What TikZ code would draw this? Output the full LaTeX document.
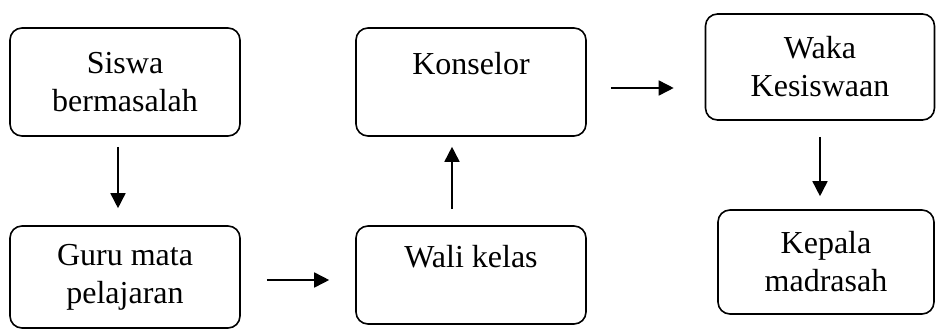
\documentclass[tikz,border=0pt]{standalone}
\usepackage{fontspec}
\setmainfont{Liberation Serif}
\usepackage{tikz}
\usetikzlibrary{arrows.meta, calc, positioning}
\definecolor{linecol}{RGB}{0, 0, 0}
\tikzset{
  blk/.style  = {draw=linecol, line width=1.6pt, rounded corners=12pt,
                 align=center, inner sep=2pt,
                 font=\fontsize{32}{38}\selectfont},
  flow/.style = {-{Triangle[length=15pt, width=15pt]}, draw=linecol,
                 line width=1.6pt},
}

\begin{document}
\begin{tikzpicture}[x=1pt, y=-1pt]
  \useasboundingbox (0,0) rectangle (936,329);

  %% ---------------- the boxes ----------------
  \node[blk, minimum width=230pt, minimum height=108pt] (siswa)
       at (125, 82) {Siswa\\bermasalah};
  \node[blk, minimum width=230pt, minimum height=102pt] (guru)
       at (125, 277) {Guru mata\\pelajaran};
  % single-line boxes keep their text on the upper line
  \node[blk, minimum width=230pt, minimum height=98pt] (wali)
       at (471, 275) {Wali kelas\\\mbox{}};
  \node[blk, minimum width=230pt, minimum height=108pt] (kons)
       at (471, 82) {Konselor\\\mbox{}};
  \node[blk, minimum width=229pt, minimum height=106pt] (waka)
       at (820, 67) {Waka\\Kesiswaan};
  \node[blk, minimum width=216pt, minimum height=104pt] (kepala)
       at (826, 262) {Kepala\\madrasah};

  %% ---------------- the flow ----------------
  \draw[flow, shorten <=10pt, shorten >=17pt]
       ([xshift=-7pt]siswa.south) -- ([xshift=-7pt]siswa.south |- guru.north);
  \draw[flow, shorten <=26pt, shorten >=26pt]
       ([yshift=-3pt]guru.east) -- ([yshift=-3pt]guru.east -| wali.west);
  \draw[flow, shorten <=16pt, shorten >=10pt]
       ([xshift=-19pt]wali.north) -- ([xshift=-19pt]wali.north |- kons.south);
  \draw[flow, shorten <=24pt, shorten >=31pt]
       ([yshift=-6pt]kons.east) -- ([yshift=-6pt]kons.east -| waka.west);
  \draw[flow, shorten <=16pt, shorten >=13pt]
       (waka.south) -- (waka.south |- kepala.north);

\end{tikzpicture}
\end{document}
